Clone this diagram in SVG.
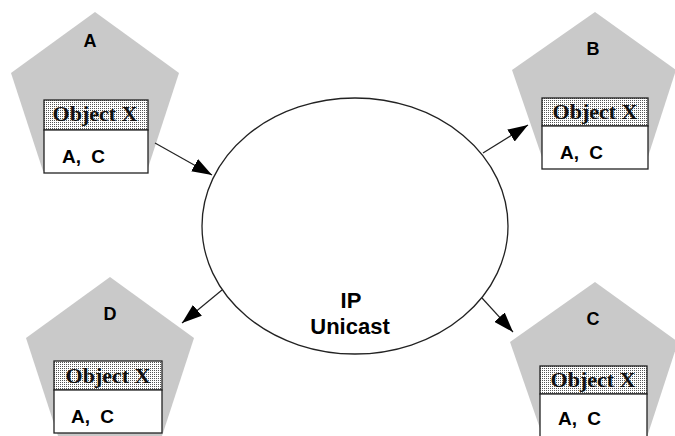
<svg xmlns="http://www.w3.org/2000/svg" width="675" height="436" viewBox="0 0 675 436">
<defs>
<pattern id="dots" width="2" height="2" patternUnits="userSpaceOnUse">
<rect width="2" height="2" fill="#ffffff"/>
<rect x="0" y="0" width="1" height="1" fill="#555"/>
</pattern>
<marker id="arr" viewBox="0 0 20 14" refX="20" refY="7" markerWidth="20" markerHeight="14" markerUnits="userSpaceOnUse" orient="auto">
<path d="M0,0 L20,7 L0,14 Z" fill="#000"/>
</marker>
</defs>
<style>
.pent{fill:#c9c9c9;stroke:none}
.hdr{fill:url(#dots);stroke:#222;stroke-width:1.3}
.body{fill:#fff;stroke:#222;stroke-width:1.3}
.obj{font-family:"Liberation Serif",serif;font-weight:bold;font-size:22px;fill:#111;text-anchor:middle}
.val{font-family:"Liberation Sans",sans-serif;font-weight:bold;font-size:19px;fill:#000;word-spacing:5px}
.lbl{font-family:"Liberation Sans",sans-serif;font-weight:bold;font-size:18px;fill:#000;text-anchor:middle}
.conn{stroke:#222;stroke-width:1.2;fill:none;marker-end:url(#arr)}
</style>
<g id="nodeA">
<polygon class="pent" points="95,12 179,73 147,171 43,171 11,73"/>
<text class="lbl" x="90" y="47">A</text>
<rect class="hdr" x="44" y="100" width="104" height="30"/>
<rect class="body" x="44" y="130" width="104" height="43"/>
<text class="obj" x="95" y="121">Object X</text>
<text class="val" x="62" y="163">A, C</text>
</g>
<g id="nodeB">
<polygon class="pent" points="595,12 676,70 645,166 545,166 512,70"/>
<text class="lbl" x="593" y="55">B</text>
<rect class="hdr" x="542" y="98" width="106" height="28"/>
<rect class="body" x="542" y="126" width="106" height="43"/>
<text class="obj" x="595" y="119">Object X</text>
<text class="val" x="560" y="159">A, C</text>
</g>
<g id="nodeD">
<polygon class="pent" points="110,277 194,338 162,436 58,436 26,338"/>
<text class="lbl" x="110" y="320">D</text>
<rect class="hdr" x="54" y="361" width="108" height="29"/>
<rect class="body" x="54" y="390" width="108" height="43"/>
<text class="obj" x="108" y="383">Object X</text>
<text class="val" x="71" y="423">A, C</text>
</g>
<g id="nodeC">
<polygon class="pent" points="595,282 678,342 646,440 544,440 510,342"/>
<text class="lbl" x="593" y="325">C</text>
<rect class="hdr" x="540" y="366" width="107" height="28"/>
<rect class="body" x="540" y="394" width="107" height="45"/>
<text class="obj" x="593" y="387">Object X</text>
<text class="val" x="558" y="425">A, C</text>
</g>
<g id="network">
<ellipse cx="355" cy="226" rx="153" ry="128" fill="#fff" stroke="#222" stroke-width="1.3"/>
<text class="lbl" x="351" y="308" style="font-size:22px">IP</text>
<text class="lbl" x="350" y="334" style="font-size:22px">Unicast</text>
</g>
<g id="connectors">
<line class="conn" x1="155" y1="143" x2="212" y2="175"/>
<line class="conn" x1="483" y1="153" x2="528" y2="125"/>
<line class="conn" x1="222" y1="290" x2="182" y2="323"/>
<line class="conn" x1="482" y1="298" x2="513" y2="332"/>
</g>
</svg>
